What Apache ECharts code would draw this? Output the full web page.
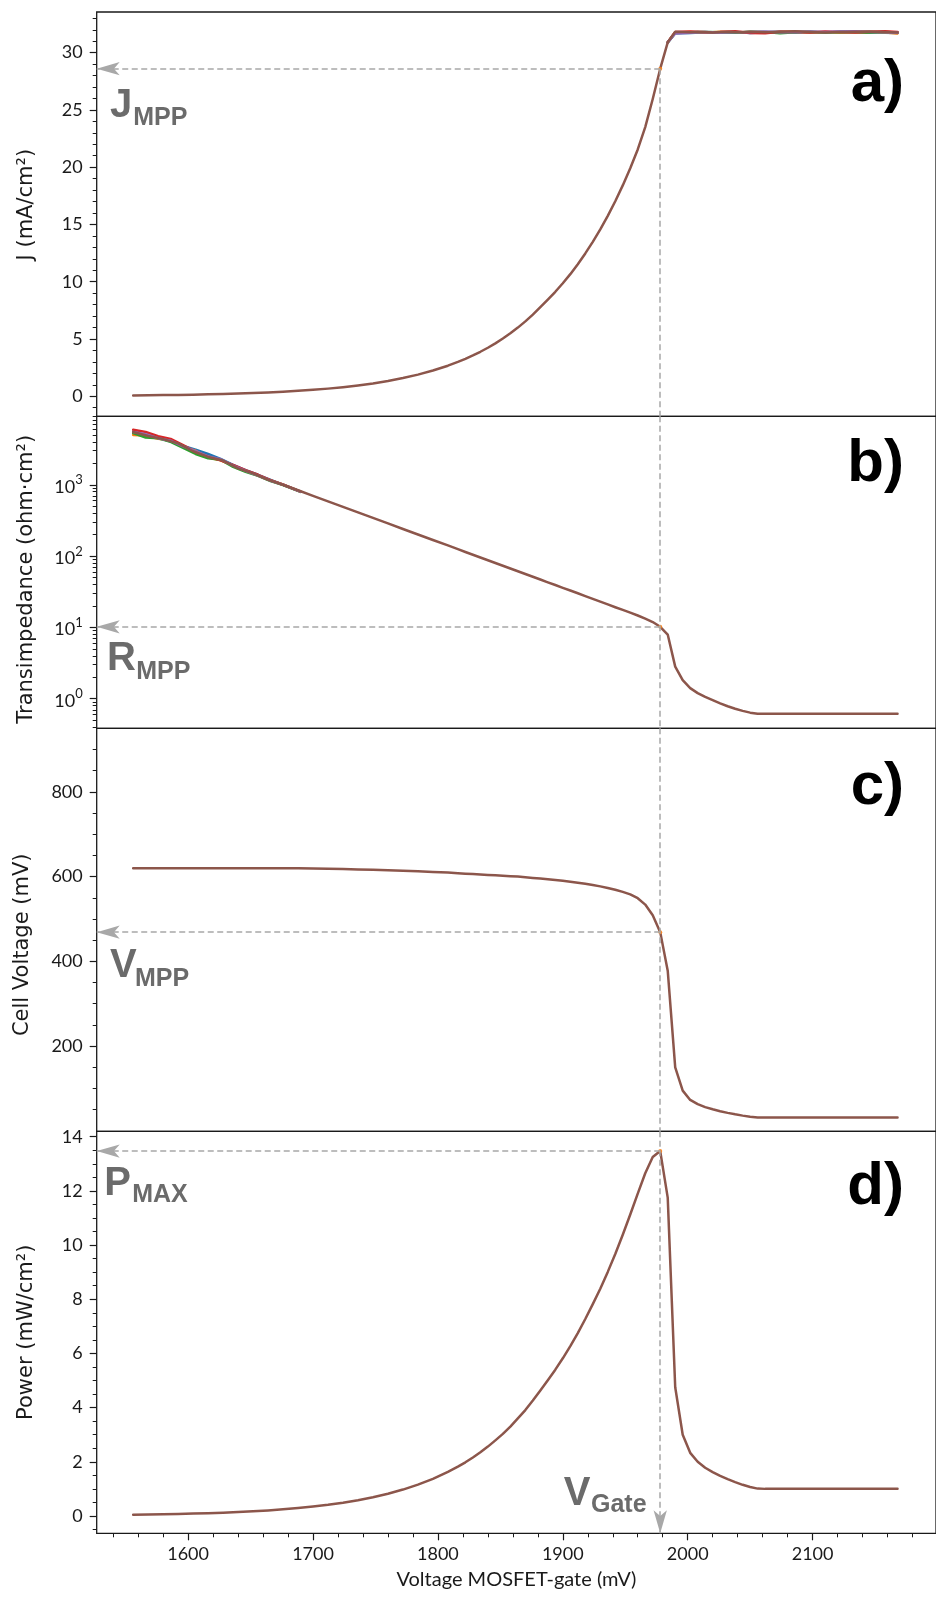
<!DOCTYPE html>
<html><head><meta charset="utf-8">
<script src="https://cdn.jsdelivr.net/npm/echarts@6/dist/echarts.min.js"></script>
<style>html,body{margin:0;padding:0;background:#fff}#c{width:936px;height:1598px}</style>
</head><body><div id="c"></div>
<script>
// ---------------- data ----------------
const gateVoltage = [1556,1568,1580,1592,1604,1616,1628,1640,1652,1664,1676,1688,1700,1712,1724,1736,1748,1760,1772,1784,1796,1808,
  1816,1822,1828,1834,1840,1846,1852,1858,1864,1870,1876,1882,1888,1894,1900,1906,1912,1918,1924,1930,1936,1942,1948,1954,1960,1966,1972,1978,
  1984,1990,1996,2002,2008,2014,2020,2026,2032,2038,2044,2050,2056,2062,
  2074,2086,2098,2110,2122,2134,2146,2158,2168];
const currentDensity = [0.070,0.083,0.099,0.118,0.140,0.166,0.198,0.235,0.280,0.333,0.396,0.471,0.560,0.666,0.793,0.943,1.121,1.334,1.586,1.887,2.244,2.668,
  2.995,3.267,3.562,3.885,4.237,4.621,5.039,5.496,5.994,6.537,7.129,7.775,8.44,9.12,9.87,10.66,11.53,12.47,13.48,14.57,15.75,17.03,18.41,19.91,21.55,23.5,25.95,28.6,
  30.9,31.82,31.8,31.78,31.82,31.8,31.77,31.8,31.83,31.8,31.78,31.82,31.8,31.79,
  31.82,31.86,31.8,31.76,31.8,31.83,31.85,31.8,31.76];
const transimpedance = [5500,4840,4365,3800,2950,2455,2190,1700,1445,1175,1000,837,700,586,490,410,344,287,240,201,168,141,
  125,114,104.6,95.7,87.5,80.1,73.3,67.0,61.3,56.1,51.3,46.9,42.9,39.3,35.9,32.9,30.1,27.5,25.1,23.0,21.0,19.2,17.6,16.1,14.7,13.3,11.9,10.2,
  7.94,2.82,1.82,1.41,1.20,1.06,0.955,0.861,0.785,0.724,0.676,0.638,0.615,0.615,
  0.615,0.616,0.615,0.615,0.614,0.615,0.615,0.615,0.615];
const cellVoltage = [620,620,620,620,620,620,620,620,620,620,620,619.5,619,618.5,618,617,616,615,614,612.5,611,609.5,
  608,607,606,605,604,603,602,601,600,598.5,597,595.5,594,592,590,588,585.5,583,580,577,573,569,564,558,549,534,509,469,
  378,150,95,73,63,56,51,46.5,42.5,39,36,33.5,31.8,31.5,
  31.5,31.5,31.5,31.5,31.5,31.5,31.5,31.5,31.5];
const power = [0.043,0.051,0.061,0.073,0.087,0.103,0.123,0.146,0.174,0.206,0.246,0.292,0.347,0.412,0.490,0.582,0.691,0.820,0.974,1.156,1.371,1.626,
  1.82,1.98,2.16,2.35,2.56,2.79,3.03,3.30,3.60,3.91,4.26,4.63,5.01,5.40,5.82,6.27,6.75,7.27,7.82,8.39,9.01,9.67,10.38,11.13,11.9,12.65,13.25,13.47,
  11.75,4.75,3.0,2.33,2.0,1.78,1.62,1.48,1.36,1.25,1.15,1.07,1.01,1.0,
  1.0,1.0,1.0,1.0,1.0,1.0,1.0,1.0,1.0];
const mppIndex = 49;

// other repeated measurements (visible where they differ from the top trace)
const plateauX = [1984,1990,2002,2014,2026,2038,2050,2062,2074,2086,2098,2110,2122,2134,2146,2158,2168];
const jBlue   = [30.9,31.7,31.72,31.78,31.75,31.8,31.72,31.78,31.82,31.75,31.8,31.77,31.82,31.8,31.78,31.74,31.72];
const jOrange = [30.9,31.75,31.8,31.74,31.82,31.78,31.8,31.76,31.8,31.84,31.78,31.8,31.75,31.82,31.8,31.76,31.68];
const jGreen  = [30.9,31.72,31.76,31.8,31.78,31.74,31.82,31.8,31.7,31.78,31.82,31.76,31.8,31.78,31.74,31.8,31.75];
const jRed    = [30.9,31.8,31.84,31.78,31.8,31.86,31.72,31.7,31.82,31.8,31.76,31.84,31.8,31.76,31.82,31.86,31.8];
const jPurple = [30.9,31.68,31.74,31.8,31.76,31.78,31.8,31.84,31.78,31.8,31.85,31.8,31.84,31.88,31.8,31.78,31.74];
const headX   = [1556,1566,1576,1586,1596,1606,1616,1626,1636,1646,1656,1666,1676,1690];
const rBlue   = [5600,5000,4600,4050,3500,3100,2700,2300,1900,1600,1380,1170,1000,800];
const rOrange = [5000,4900,4400,4200,3400,3000,2400,2200,1850,1560,1350,1150,1010,800];
const rGreen  = [5300,4600,4500,4000,3300,2700,2350,2250,1780,1520,1330,1130,990,795];
const rRed    = [5900,5500,4800,4400,3600,2900,2500,2200,1900,1600,1380,1160,1000,800];
const rPurple = [5500,5100,4500,4150,3450,2950,2500,2280,1860,1570,1340,1140,1005,802];

// ticks
const xTicks = [1600,1700,1800,1900,2000,2100];
const xMinorTicks = [1540,1560,1580,1620,1640,1660,1680,1720,1740,1760,1780,1820,1840,1860,1880,1920,1940,1960,1980,2020,2040,2060,2080,2120,2140,2160,2180];
const jTicks = [0,5,10,15,20,25,30];
const jMinorTicks = [-1,1,2,3,4,6,7,8,9,11,12,13,14,16,17,18,19,21,22,23,24,26,27,28,29,31,32,33];
const rTicks = [1,10,100,1000];
const rMinorTicks = [0.4,0.5,0.6,0.7,0.8,0.9,2,3,4,5,6,7,8,9,20,30,40,50,60,70,80,90,200,300,400,500,600,700,800,900,2000,3000,4000,5000,6000,7000,8000,9000];
const vTicks = [200,400,600,800];
const vMinorTicks = [50,100,150,250,300,350,450,500,550,650,700,750,850,900];
const pTicks = [0,2,4,6,8,10,12,14];
const pMinorTicks = [-0.5,0.5,1,1.5,2.5,3,3.5,4.5,5,5.5,6.5,7,7.5,8.5,9,9.5,10.5,11,11.5,12.5,13,13.5];

// ---------------- style ----------------
const X_MIN = 1526.8, X_MAX = 2198.8;
const LIM = {J:[-1.75,33.55], R:[0.385,9120], V:[-1,950], P:[-0.64,14.2]};
const TICK_FONT = 'Lato', NAME_FONT = 'DejaVu Sans', ANNO_FONT = 'Liberation Sans';
const ink = '#1a1a1a', guide = '#a8a8a8', anno = '#6b6b6b';
const brown = '#8c564b';
const pal = ['#1f77b4','#ff7f0e','#2ca02c','#d62728','#9467bd'];

const grids = [
  {left:96.7, top:12, width:850, height:404.3},
  {left:96.7, top:416.3, width:850, height:312},
  {left:96.7, top:728.3, width:850, height:403},
  {left:96.7, top:1131.3, width:850, height:402}
].map(g => Object.assign({show:true, borderColor:ink, borderWidth:1.3, backgroundColor:'transparent'}, g));

const xAxes = [0,1,2].map(i => ({gridIndex:i, type:'value', min:X_MIN, max:X_MAX,
  axisLine:{show:false, onZero:false}, axisTick:{show:false}, axisLabel:{show:false}, splitLine:{show:false}}));
xAxes.push({gridIndex:3, type:'value', min:X_MIN, max:X_MAX, position:'bottom',
  axisLine:{show:false, onZero:false}, splitLine:{show:false},
  axisTick:{show:true, length:7, customValues:xTicks, lineStyle:{color:ink, width:1.2}},
  axisLabel:{customValues:xTicks, fontFamily:TICK_FONT, fontSize:18, color:ink, margin:12, formatter:v => String(v)},
  name:'Voltage MOSFET-gate (mV)', nameLocation:'middle', nameGap:36,
  nameTextStyle:{fontFamily:TICK_FONT, fontSize:20, color:ink}});
xAxes.push({gridIndex:3, type:'value', min:X_MIN, max:X_MAX, position:'bottom',
  axisLine:{show:false, onZero:false}, splitLine:{show:false}, axisLabel:{show:false},
  axisTick:{show:true, length:4, customValues:xMinorTicks, lineStyle:{color:ink, width:1}}});

function yPair(grid, type, lim, major, minor, name, gap, pad, fmt, rich){
  const base = {gridIndex:grid, type:type, min:lim[0], max:lim[1], position:'left', splitLine:{show:false}, axisLine:{show:false, onZero:false}};
  if (type === 'log') base.logBase = 10;
  const maj = Object.assign({}, base, {
    axisTick:{show:true, length:7, customValues:major, lineStyle:{color:ink, width:1.2}},
    axisLabel:{customValues:major, fontFamily:TICK_FONT, fontSize:18, color:ink, margin:14, formatter:fmt || (v => String(v)), rich:rich},
    name:name, nameLocation:'middle', nameGap:gap,
    nameTextStyle:{fontFamily:NAME_FONT, fontSize:21, color:ink, padding:pad}
  });
  const mino = Object.assign({}, base, {
    axisTick:{show:true, length:4, customValues:minor, lineStyle:{color:ink, width:1}},
    axisLabel:{show:false}
  });
  return [maj, mino];
}
const logFmt = v => '{b|10}{s|' + Math.round(Math.log10(v)) + '}';
const logRich = {b:{fontFamily:TICK_FONT, fontSize:18, color:ink, lineHeight:22, verticalAlign:'bottom'},
                 s:{fontFamily:TICK_FONT, fontSize:13, color:ink, lineHeight:12, verticalAlign:'top'}};
const yAxes = [].concat(
  yPair(0,'value',LIM.J,jTicks,jMinorTicks,'J (mA/cm²)',60,[0,0,0,19]),
  yPair(1,'log',LIM.R,rTicks,rMinorTicks,'Transimpedance (ohm·cm²)',60,[0,14,0,0],logFmt,logRich),
  yPair(2,'value',LIM.V,vTicks,vMinorTicks,'Cell Voltage (mV)',63.5,[0,30,0,0]),
  yPair(3,'value',LIM.P,pTicks,pMinorTicks,'Power (mW/cm²)',60,[0,0,0,0])
);

const zip = (xs, ys) => xs.map((x, i) => [x, ys[i]]);
const lineS = (xi, yi, data, color, z) => ({type:'line', xAxisIndex:xi, yAxisIndex:yi, data:data,
  showSymbol:false, symbol:'none', lineStyle:{color:color, width:2.5, join:'round', cap:'round'}, itemStyle:{color:color}, z:z, animation:false});

const mppX = gateVoltage[mppIndex];
const mpp = [currentDensity[mppIndex], transimpedance[mppIndex], cellVoltage[mppIndex], power[mppIndex]];
const dash = {color:guide, type:[6,3.5], width:1.5};
const arrowEnd = (coord) => ({coord:coord, symbol:'arrow', symbolSize:[10,23]});
const mlBase = {silent:true, animation:false, symbol:'none', label:{show:false}, lineStyle:dash, emphasis:{disabled:true}};

const series = [];
const jSets = [jBlue,jOrange,jGreen,jRed,jPurple];
const rSets = [rBlue,rOrange,rGreen,rRed,rPurple];
jSets.forEach((s, k) => series.push(lineS(0, 0, zip(plateauX, s), pal[k], 2)));
rSets.forEach((s, k) => series.push(lineS(1, 2, zip(headX, s), pal[k], 2)));

series.push(Object.assign(lineS(0, 0, zip(gateVoltage, currentDensity), brown, 3), {
  markLine: Object.assign({}, mlBase, {data:[
    [{coord:[mppX, mpp[0]]}, arrowEnd([X_MIN, mpp[0]])],
    [{coord:[mppX, mpp[0]]}, {coord:[mppX, LIM.J[0]]}]
  ]})}));
series.push(Object.assign(lineS(1, 2, zip(gateVoltage, transimpedance), brown, 3), {
  markLine: Object.assign({}, mlBase, {data:[
    [{coord:[mppX, mpp[1]]}, arrowEnd([X_MIN, mpp[1]])],
    [{coord:[mppX, LIM.R[1]]}, {coord:[mppX, LIM.R[0]]}]
  ]})}));
series.push(Object.assign(lineS(2, 4, zip(gateVoltage, cellVoltage), brown, 3), {
  markLine: Object.assign({}, mlBase, {data:[
    [{coord:[mppX, mpp[2]]}, arrowEnd([X_MIN, mpp[2]])],
    [{coord:[mppX, LIM.V[1]]}, {coord:[mppX, LIM.V[0]]}]
  ]})}));
series.push(Object.assign(lineS(3, 6, zip(gateVoltage, power), brown, 3), {
  markLine: Object.assign({}, mlBase, {data:[
    [{coord:[mppX, mpp[3]]}, arrowEnd([X_MIN, mpp[3]])],
    [{coord:[mppX, LIM.P[1]]}, arrowEnd([mppX, LIM.P[0]])]
  ]})}));
[[0,0],[1,2],[2,4],[3,6]].forEach((ax, k) => series.push({type:'scatter', xAxisIndex:ax[0], yAxisIndex:ax[1],
  data:[[mppX, mpp[k]]], symbolSize:4, itemStyle:{color:'#ff7f0e'}, z:4, silent:true, animation:false}));

// annotations
const txt = (s, x, y, size, color, align) => ({type:'text', silent:true, z:100,
  style:{text:s, x:x, y:y, fontFamily:ANNO_FONT, fontWeight:'bold', fontSize:size, fill:color,
         align:align||'left', textAlign:align||'left', verticalAlign:'top', textVerticalAlign:'top'}});
const graphics = [
  txt('J',110,85.6,40,anno), txt('MPP',133.2,105.8,25,anno),
  txt('R',107,639.3,40,anno), txt('MPP',136.2,659.8,25,anno),
  txt('V',110,945.9,40,anno), txt('MPP',134.9,966.5,25,anno),
  txt('P',104.3,1163.6,40,anno), txt('MAX',132.2,1183,25,anno),
  txt('V',563.7,1473.6,40,anno), txt('Gate',591,1493,25,anno),
  txt('a)',904,54,60,'#000','right'),
  txt('b)',904,434.7,60,'#000','right'),
  txt('c)',904,757,60,'#000','right'),
  txt('d)',904,1157,60,'#000','right')
];

const chart = echarts.init(document.getElementById('c'), null, {renderer:'canvas'});
chart.setOption({animation:false, backgroundColor:'#fff', grid:grids, xAxis:xAxes, yAxis:yAxes, series:series, graphic:graphics});
</script></body></html>
